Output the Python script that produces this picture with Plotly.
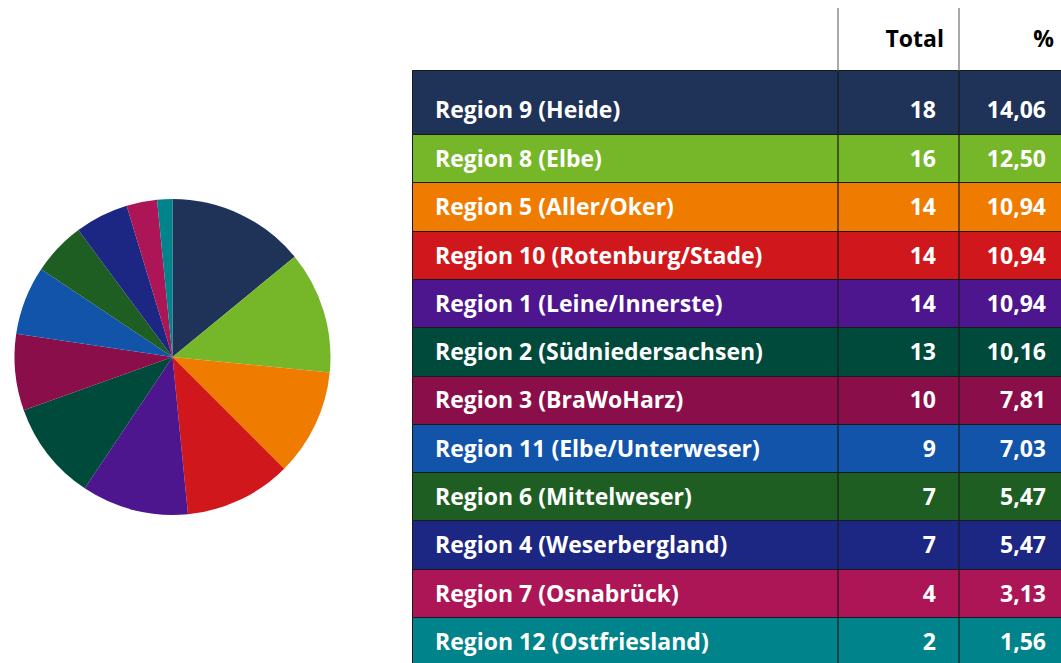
import plotly.graph_objects as go

regions = ["Region 9 (Heide)", "Region 8 (Elbe)", "Region 5 (Aller/Oker)",
           "Region 10 (Rotenburg/Stade)", "Region 1 (Leine/Innerste)",
           "Region 2 (Südniedersachsen)", "Region 3 (BraWoHarz)",
           "Region 11 (Elbe/Unterweser)", "Region 6 (Mittelweser)",
           "Region 4 (Weserbergland)", "Region 7 (Osnabrück)",
           "Region 12 (Ostfriesland)"]
totals = [18, 16, 14, 14, 14, 13, 10, 9, 7, 7, 4, 2]
percents = [14.06, 12.50, 10.94, 10.94, 10.94, 10.16, 7.81, 7.03, 5.47, 5.47, 3.13, 1.56]
colors = ["#1f3258", "#76b72a", "#ef7c00", "#d0181c", "#4d168f", "#004a3b",
          "#8a0e49", "#1254aa", "#1e5e22", "#1c2683", "#ac1556", "#00838a"]
header = ["Total", "%"]

W, H = 1061, 663
FONT = "Open Sans"
FS = 23

fig = go.Figure()

# Pie
fig.add_trace(go.Pie(
    labels=regions, values=totals, sort=False, direction="clockwise",
    rotation=0, marker=dict(colors=colors, line=dict(width=0)),
    textinfo="none", hoverinfo="label+value+percent", showlegend=False,
    domain=dict(x=[0, 345 / W], y=[1 - 515 / H, 1 - 199 / H]),
))

# Table geometry (pixel-like axes)
left, col1, col2, right = 413, 838, 959, 1061
top = 71
first_h, row_h = 64, 48.3
heights = [first_h] + [row_h] * (len(regions) - 1)
centers = []
y = top
for h in heights:
    centers.append(y + h / 2)
    y += h
text_y = [c + (9 if i == 0 else 2) for i, c in enumerate(centers)]

fig.add_trace(go.Bar(
    orientation="h", y=centers, x=[right + 20 - left] * len(regions), base=left,
    width=heights, marker=dict(color=colors, line=dict(color="#1a1a1a", width=1)),
    hoverinfo="skip", showlegend=False,
))

# Column separators
fig.add_trace(go.Scatter(x=[col1, col1, None, col2, col2], y=[8, top, None, 8, top],
                         mode="lines", line=dict(color="#555555", width=1),
                         hoverinfo="skip", showlegend=False))
fig.add_trace(go.Scatter(x=[col1, col1, None, col2, col2], y=[top, H + 5, None, top, H + 5],
                         mode="lines", line=dict(color="#1a1a1a", width=1.2),
                         hoverinfo="skip", showlegend=False))

txt_font = dict(family=FONT, size=FS, color="white", weight="bold")
# Texts
fig.add_trace(go.Scatter(x=[435] * len(regions), y=text_y, text=regions,
                         mode="text", textposition="middle right", textfont=txt_font,
                         hoverinfo="skip", showlegend=False))
fig.add_trace(go.Scatter(x=[936] * len(regions), y=text_y, text=[str(t) for t in totals],
                         mode="text", textposition="middle left", textfont=txt_font,
                         hoverinfo="skip", showlegend=False))
fig.add_trace(go.Scatter(x=[1046] * len(regions), y=text_y,
                         text=[f"{p:.2f}".replace(".", ",") for p in percents],
                         mode="text", textposition="middle left", textfont=txt_font,
                         hoverinfo="skip", showlegend=False))
fig.add_trace(go.Scatter(x=[944, 1054], y=[41, 41], text=header,
                         mode="text", textposition="middle left",
                         textfont=dict(family=FONT, size=FS, color="black", weight="bold"),
                         hoverinfo="skip", showlegend=False))

fig.update_layout(
    width=W, height=H, margin=dict(l=0, r=0, t=0, b=0),
    paper_bgcolor="white", plot_bgcolor="white", bargap=0,
    xaxis=dict(range=[0, W], visible=False, fixedrange=True),
    yaxis=dict(range=[H, 0], visible=False, fixedrange=True),
)

fig.write_html("out.html", config={"displayModeBar": False},
               post_script="document.body.style.margin='0';document.body.style.overflow='hidden';")
